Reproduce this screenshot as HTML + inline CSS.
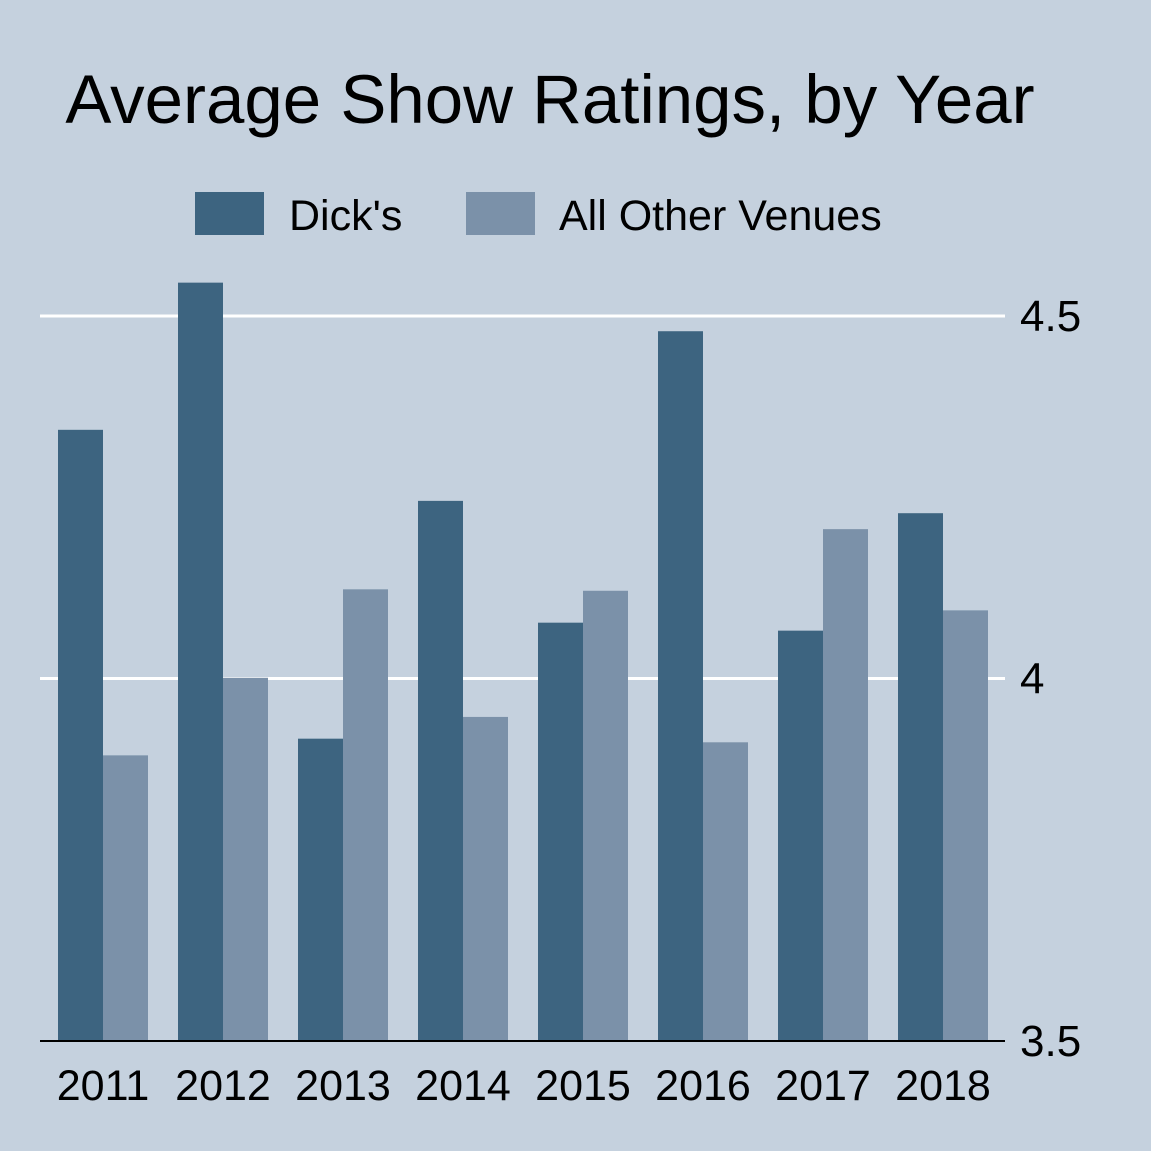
<!DOCTYPE html>
<html><head><meta charset="utf-8"><style>
html,body{margin:0;padding:0;background:#c5d1de;}
svg{display:block;font-family:"Liberation Sans",Arial,sans-serif;}
</style></head><body>
<svg id="chart" width="1151" height="1151" viewBox="0 0 1151 1151">
<rect x="0" y="0" width="1151" height="1151" fill="#c5d1de"/>
<text x="550" y="123" font-size="69" text-anchor="middle" fill="#000">Average Show Ratings, by Year</text>
<g>
<rect x="195" y="192" width="69" height="43" fill="#3d6480"/>
<text x="289" y="230" font-size="43" fill="#000">Dick's</text>
<rect x="466" y="192" width="69" height="43" fill="#7b91a9"/>
<text x="559" y="230" font-size="43" fill="#000">All Other Venues</text>
</g>
<g id="grid"></g>
<g id="bars"></g>
<g id="axes"></g>
</svg>
<script>
const categories = ["2011","2012","2013","2014","2015","2016","2017","2018"];
const dicksValues = [4.343,4.546,3.917,4.245,4.077,4.479,4.066,4.228];
const otherValues = [3.894,4.001,4.123,3.947,4.121,3.912,4.206,4.094];
const yTicks = [3.5,4,4.5];
const yTickLabels = ["3.5","4","4.5"];

const NS="http://www.w3.org/2000/svg";
const plotLeft=40, plotRight=1005, yMin=3.5, yMax=4.5, yBottom=1041, yTop=316;
const groupStart=43, groupStep=120, barW=45;
function y(v){return yBottom-(v-yMin)/(yMax-yMin)*(yBottom-yTop);}
function xc(i){return groupStart+groupStep*i+60;}
function mk(tag,attrs,parent){const e=document.createElementNS(NS,tag);for(const k in attrs)e.setAttribute(k,attrs[k]);parent.appendChild(e);return e;}
const grid=document.getElementById('grid'), bars=document.getElementById('bars'), axes=document.getElementById('axes');
yTicks.forEach((t,i)=>{
  if(t>yMin){
    const l=mk('line',{x1:plotLeft,x2:plotRight,y1:y(t),y2:y(t),stroke:'#fff','stroke-width':3},grid);
    
    
  }
  const tx=mk('text',{x:1020,y:y(t)+15,'font-size':44,fill:'#000'},axes);
  tx.textContent=yTickLabels[i];
  
  
});
categories.forEach((c,i)=>{
  const b1=mk('rect',{x:xc(i)-barW,y:y(dicksValues[i]),width:barW,height:yBottom-y(dicksValues[i]),fill:'#3d6480'},bars);
  
  
  const b2=mk('rect',{x:xc(i),y:y(otherValues[i]),width:barW,height:yBottom-y(otherValues[i]),fill:'#7b91a9'},bars);
  
  
  const t=mk('text',{x:xc(i),y:1100,'font-size':43,'text-anchor':'middle',fill:'#000'},axes);
  t.textContent=c;
  
  
});
const ax=mk('line',{x1:plotLeft,x2:plotRight,y1:yBottom,y2:yBottom,stroke:'#000','stroke-width':2},axes);


</script>
</body></html>
